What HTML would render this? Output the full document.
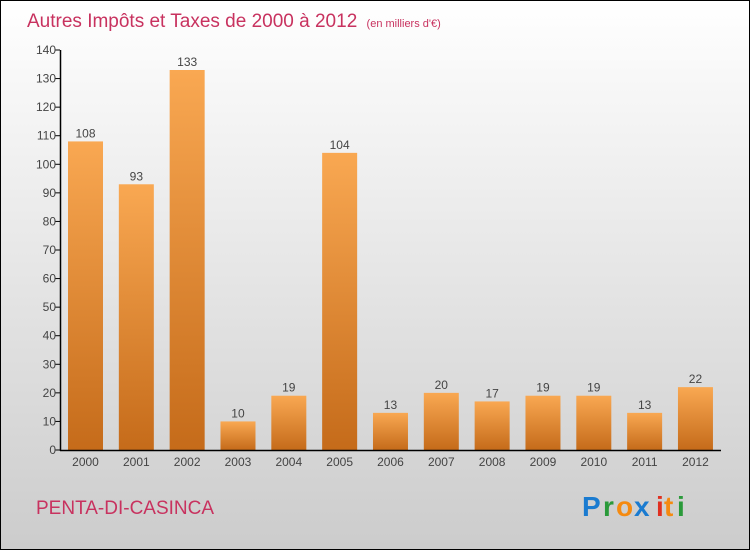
<!DOCTYPE html>
<html><head><meta charset="utf-8"><style>
html,body{margin:0;padding:0}
body{width:750px;height:550px;overflow:hidden;font-family:"Liberation Sans",sans-serif}
</style></head><body>
<svg width="750" height="550" xmlns="http://www.w3.org/2000/svg">
<defs>
<linearGradient id="bg" x1="0" y1="0" x2="0" y2="1"><stop offset="0" stop-color="#ffffff"/><stop offset="1" stop-color="#cccccc"/></linearGradient>
<linearGradient id="bar" x1="0" y1="0" x2="0" y2="1"><stop offset="0" stop-color="#f9a852"/><stop offset="1" stop-color="#c56b1a"/></linearGradient>
</defs>
<rect x="0.5" y="0.5" width="749" height="549" fill="url(#bg)" stroke="#000"/>
<text x="27" y="27" font-size="19" fill="#c8325f">Autres Impôts et Taxes de 2000 à 2012 <tspan font-size="11" dx="4">(en milliers d'€)</tspan></text>
<g id="plot"></g>
<text x="36" y="514" font-size="19" fill="#c8325f">PENTA-DI-CASINCA</text>
<g font-size="28" font-weight="bold" font-family="'Liberation Sans',sans-serif">
<text x="582" y="516" fill="#1a7bd0">P</text><text x="603" y="516" fill="#2a9a3a">r</text><text x="616" y="516" fill="#f58a10">o</text><text x="634" y="516" fill="#1a7bd0">x</text><text x="656" y="516" fill="#e03020">i</text><text x="664" y="516" fill="#f58a10">t</text><text x="677" y="516" fill="#2a9a3a">i</text>
</g>
</svg>
<script>
const categories=["2000","2001","2002","2003","2004","2005","2006","2007","2008","2009","2010","2011","2012"];
const values=[108,93,133,10,19,104,13,20,17,19,19,13,22];
const yTicks=[0,10,20,30,40,50,60,70,80,90,100,110,120,130,140];
const NS="http://www.w3.org/2000/svg";
const g=document.getElementById('plot');
const y0=450,yTop=50,yMax=140;
const y=v=>y0-(v/yMax)*(y0-yTop);
const step=50.83,bw=35;
const x=i=>68+i*step;
function el(t,a,txt){const e=document.createElementNS(NS,t);for(const k in a)e.setAttribute(k,a[k]);if(txt!==undefined)e.textContent=txt;g.appendChild(e);return e;}
values.forEach((v,i)=>{
 const r=el('rect',{x:x(i),y:y(v),width:bw,height:y0-y(v),fill:'url(#bar)'});
 
 
 const t=el('text',{x:x(i)+bw/2,y:y(v)-4,'text-anchor':'middle','font-size':12,fill:'#444'},String(v));
 
 
 const c=el('text',{x:x(i)+bw/2,y:466,'text-anchor':'middle','font-size':12,fill:'#444'},categories[i]);
 
 
});
yTicks.forEach(v=>{
 const l=el('line',{x1:55,x2:60,y1:y(v),y2:y(v),stroke:'#000'});
 
 
 const t=el('text',{x:56,y:y(v)+4,'text-anchor':'end','font-size':12,fill:'#444'},String(v));
 
 
});
const ya=el('line',{x1:60.5,x2:60.5,y1:yTop,y2:y0+1,stroke:'#000','stroke-width':1.5});


const xa=el('line',{x1:60,x2:721,y1:y0+0.5,y2:y0+0.5,stroke:'#000','stroke-width':1.5});


</script>
</body></html>
